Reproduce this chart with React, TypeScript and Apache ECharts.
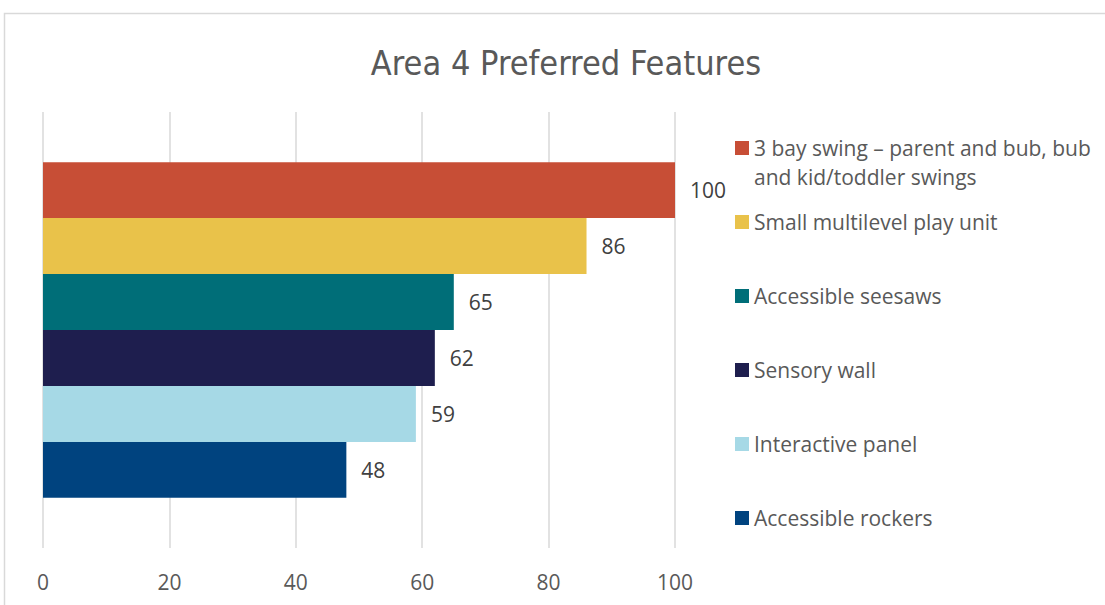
import React, { useEffect, useRef } from "react";
import * as echarts from "echarts";

const categories = [""];
const seriesNames = [
  "3 bay swing – parent and bub, bub and kid/toddler swings",
  "Small multilevel play unit",
  "Accessible seesaws",
  "Sensory wall",
  "Interactive panel",
  "Accessible rockers",
];
const seriesValues = [100, 86, 65, 62, 59, 48];
const seriesColors = ["#C74E36", "#E9C24A", "#006E78", "#1E1E4E", "#A6D9E6", "#00437F"];
const xTicks = [0, 20, 40, 60, 80, 100];

const legendCenters = [148, 222, 296, 370, 444, 518];

export default function App() {
  const ref = useRef<HTMLDivElement>(null);
  useEffect(() => {
    if (!ref.current) return;
    const chart = echarts.init(ref.current, undefined, { renderer: "svg" });
    const bodyFont = "'Open Sans', sans-serif";
    const narrowFont = "'Liberation Sans Narrow', 'DejaVu Sans Condensed', sans-serif";
    const legends = seriesNames.map((name, i) => {
      const first = i === 0;
      return {
        data: [name],
        orient: "vertical",
        left: 735,
        top: first ? legendCenters[i] - 43.5 : legendCenters[i] - 13,
        padding: 0,
        itemWidth: 14,
        itemHeight: 14,
        itemGap: 0,
        icon: "rect",
        formatter: first
          ? () => " \n3 bay swing – parent and bub, bub\nand kid/toddler swings"
          : undefined,
        selectedMode: false,
        textStyle: {
          color: "#595959",
          fontSize: 21,
          fontFamily: bodyFont,
          lineHeight: first ? 29 : 26,
        },
      };
    });
    chart.setOption({
      animation: false,
      backgroundColor: "#ffffff",
      title: {
        text: "Area 4 Preferred Features",
        left: 561,
        textAlign: "center",
        top: 38,
        textStyle: {
          color: "#595959",
          fontSize: 34,
          fontWeight: "normal",
          fontFamily: narrowFont,
          lineHeight: 40,
        },
      },
      graphic: [
        {
          type: "rect",
          shape: { x: 4.5, y: 13.5, width: 1200, height: 700 },
          style: { fill: "none", stroke: "#d9d9d9", lineWidth: 1.5 },
          silent: true,
        },
      ],
      legend: legends,
      grid: { left: 43, right: 430, top: 112, bottom: 57, containLabel: false },
      xAxis: {
        type: "value",
        min: xTicks[0],
        max: xTicks[xTicks.length - 1],
        interval: xTicks[1] - xTicks[0],
        axisLine: { show: false },
        axisTick: { show: false },
        axisLabel: { color: "#595959", fontSize: 21, fontFamily: bodyFont, margin: 23 },
        splitLine: { show: true, lineStyle: { color: "#d9d9d9", width: 1.5 } },
      },
      yAxis: {
        type: "category",
        data: categories,
        inverse: true,
        axisLine: { show: false },
        axisTick: { show: false },
        axisLabel: { show: false },
        splitLine: { show: false },
      },
      series: seriesNames.map((name, i) => ({
        type: "bar",
        name,
        data: [seriesValues[i]],
        barGap: "0%",
        barCategoryGap: "23%",
        itemStyle: { color: seriesColors[i] },
        label: {
          show: true,
          position: "right",
          distance: 15,
          color: "#404040",
          fontSize: 21,
          fontFamily: bodyFont,
        },
      })),
    });
    return () => chart.dispose();
  }, []);
  return (
    <div
      ref={ref}
      style={{ position: "absolute", left: 0, top: 0, width: 1105, height: 605 }}
    />
  );
}
